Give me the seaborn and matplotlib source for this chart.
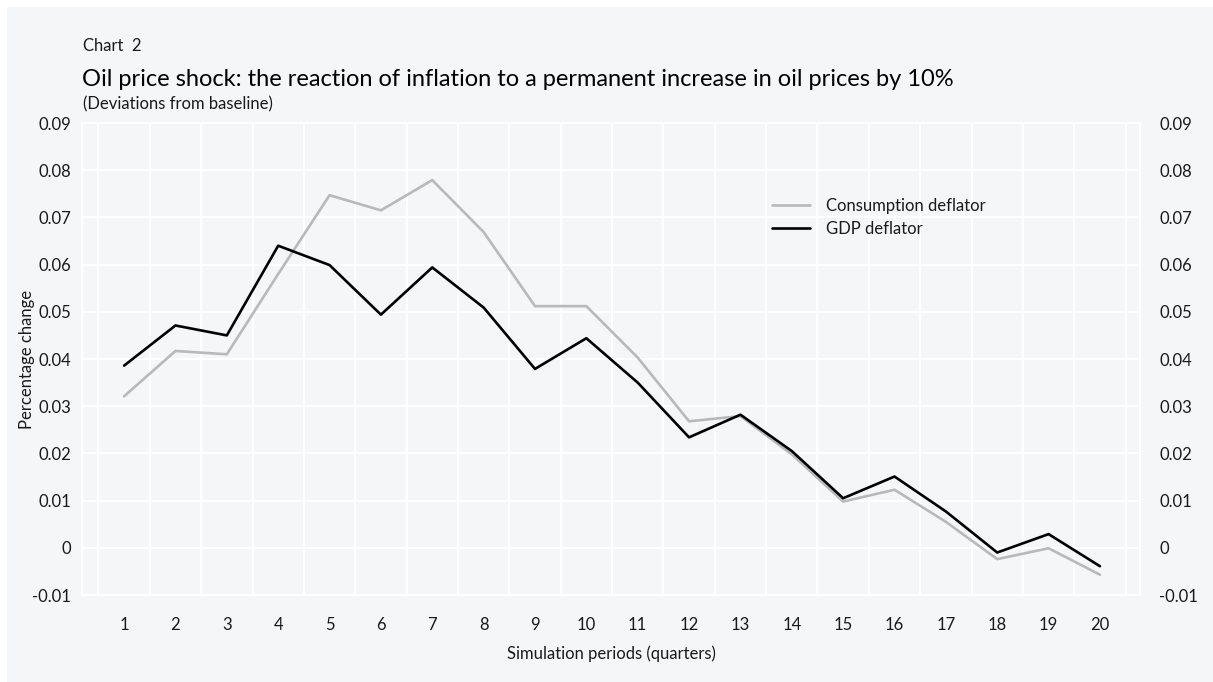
import pandas as pd
import numpy as np
import matplotlib.pyplot as plt
import matplotlib.patches as mpatches
import seaborn as sns

# Data
periods = list(range(1, 21))
consumption_deflator = [0.0321, 0.0417, 0.0410, 0.0580, 0.0747, 0.0715, 0.0779, 0.0669, 0.0512, 0.0512,
                        0.0403, 0.0268, 0.0279, 0.0198, 0.0098, 0.0123, 0.0055, -0.0024, -0.0001, -0.0057]
gdp_deflator = [0.0386, 0.0471, 0.0450, 0.0640, 0.0599, 0.0494, 0.0594, 0.0509, 0.0379, 0.0444,
                0.0350, 0.0234, 0.0282, 0.0205, 0.0105, 0.0151, 0.0077, -0.0010, 0.0029, -0.0039]
series_names = ['Consumption deflator', 'GDP deflator']
y_ticks = [0.09, 0.08, 0.07, 0.06, 0.05, 0.04, 0.03, 0.02, 0.01, 0, -0.01]
y_labels = ['0.09', '0.08', '0.07', '0.06', '0.05', '0.04', '0.03', '0.02', '0.01', '0', '-0.01']

df = pd.DataFrame({
    'period': periods * 2,
    'value': consumption_deflator + gdp_deflator,
    'series': [series_names[0]] * 20 + [series_names[1]] * 20,
})

sns.set_theme(style='whitegrid')
plt.rcParams['font.family'] = ['Lato', 'DejaVu Sans']

bg = '#f5f6f8'
txt = '#1a1a1a'
fig = plt.figure(figsize=(12.13, 6.82), dpi=100, facecolor='white')
fig.patches.append(mpatches.Rectangle((7 / 1213, 0), 1, 675 / 682, transform=fig.transFigure,
                                      facecolor=bg, edgecolor='none', zorder=-5))
ax = fig.add_axes([82 / 1213, 1 - 595 / 682, (1140 - 82) / 1213, (595 - 123) / 682])
ax.set_facecolor(bg)

sns.lineplot(data=df, x='period', y='value', hue='series', ax=ax,
             palette={series_names[0]: '#b9b9b9', series_names[1]: '#000000'},
             linewidth=1.9, zorder=3)

ax.set_xlim(0.18, 20.78)
ax.set_ylim(-0.01, 0.09)
ax.set_xticks(periods)
ax.set_xticklabels([str(p) for p in periods])
ax.set_xticks(np.arange(0.5, 21, 1), minor=True)
ax.set_yticks(y_ticks)
ax.set_yticklabels(y_labels)

ax.grid(False)
ax.grid(True, axis='y', which='major', color='white', linewidth=1.5)
ax.grid(True, axis='x', which='minor', color='white', linewidth=1.5)
for s in ax.spines.values():
    s.set_color('white')
    s.set_linewidth(1.5)

ax.tick_params(axis='x', which='both', length=0, pad=16, labelsize=12, labelcolor=txt)
ax.tick_params(axis='y', which='both', length=0, pad=8, labelsize=12, labelcolor=txt)

ax2 = ax.twinx()
ax2.set_ylim(ax.get_ylim())
ax2.set_yticks(y_ticks)
ax2.set_yticklabels(y_labels)
ax2.grid(False)
ax2.tick_params(axis='y', length=0, pad=14, labelsize=12, labelcolor=txt)
for s in ax2.spines.values():
    s.set_visible(False)

ax.set_xlabel('Simulation periods (quarters)', fontsize=12, color=txt, labelpad=9)
ax.set_ylabel('Percentage change', fontsize=12, color=txt)
ax.yaxis.set_label_coords(-0.044, 0.5)

leg = ax.legend(loc='upper left', bbox_to_anchor=(0.638, 0.873), frameon=False,
                fontsize=12, handlelength=2.3, handletextpad=0.95, labelspacing=0.4)
for t in leg.get_texts():
    t.set_color(txt)

fig.text(83 / 1213, 1 - 51 / 682, 'Chart  2', fontsize=12, color=txt)
fig.text(82 / 1213, 1 - 86 / 682, 'Oil price shock: the reaction of inflation to a permanent increase in oil prices by 10%',
         fontsize=17, color='#000000')
fig.text(83 / 1213, 1 - 109 / 682, '(Deviations from baseline)', fontsize=12, color=txt)

plt.savefig('out.png', dpi=100, facecolor=fig.get_facecolor())
plt.close()
